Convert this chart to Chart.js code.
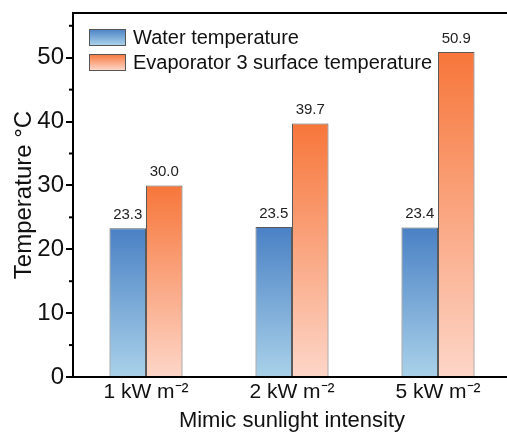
<!DOCTYPE html>
<html>
<head>
<meta charset="utf-8">
<script src="https://cdn.jsdelivr.net/npm/chart.js@4"></script>
<style>
  html, body { margin: 0; padding: 0; background: #fff; overflow: hidden; }
  #wrap { width: 516px; height: 434px; }
</style>
</head>
<body>
<div id="wrap"><canvas id="barChart" width="516" height="434"></canvas></div>
<script>
// data
const categories = ["1 kW m\u207B\u00B2", "2 kW m\u207B\u00B2", "5 kW m\u207B\u00B2"];
const seriesNames = ["Water temperature", "Evaporator 3 surface temperature"];
const waterTemp = [23.3, 23.5, 23.4];
const evapTemp = [30.0, 39.7, 50.9];
const yTicks = [0, 10, 20, 30, 40, 50];
const yMinorTicks = [5, 15, 25, 35, 45, 55];

const FONT = "'Liberation Sans', Arial, sans-serif";
const blueStops = ["#4a81c5", "#a9d1e9"];
const orangeStops = ["#f7763a", "#fdd6c8"];

// vertical gradient for each bar, from its top down to zero
function barGradient(stops) {
  return function (context) {
    const chart = context.chart;
    const y = chart.scales.y;
    if (!chart.chartArea || !y || context.type !== "data") return stops[0];
    const top = y.getPixelForValue(context.raw);
    const bottom = y.getPixelForValue(0);
    const g = chart.ctx.createLinearGradient(0, top, 0, bottom);
    g.addColorStop(0, stops[0]);
    g.addColorStop(1, stops[1]);
    return g;
  };
}

// value labels, top frame line, minor ticks and the in-plot legend
const extras = {
  id: "extras",
  afterDraw(chart) {
    const ctx = chart.ctx;
    const area = chart.chartArea;
    const y = chart.scales.y;
    ctx.save();

    // value labels
    ctx.font = "15px " + FONT;
    ctx.fillStyle = "#222";
    ctx.textAlign = "center";
    ctx.textBaseline = "bottom";
    chart.data.datasets.forEach((ds, i) => {
      chart.getDatasetMeta(i).data.forEach((bar, j) => {
        ctx.fillText(ds.data[j].toFixed(1), bar.x, bar.y - 6);
      });
    });

    // top frame
    ctx.fillStyle = "#000";
    ctx.fillRect(area.left - 1, area.top - 1, area.right - area.left + 1, 2);

    // minor ticks
    yMinorTicks.forEach((v) => {
      if (v > y.max) return;
      const py = y.getPixelForValue(v);
      ctx.fillRect(area.left - 4, py - 1, 4, 2);
    });

    // legend
    const lx = area.left + 16;
    const rows = [area.top + 24, area.top + 49];
    ctx.font = "20px " + FONT;
    ctx.textAlign = "left";
    ctx.textBaseline = "middle";
    [blueStops, orangeStops].forEach((stops, i) => {
      const cy = rows[i];
      const g = ctx.createLinearGradient(0, cy - 8, 0, cy + 8);
      g.addColorStop(0, stops[0]);
      g.addColorStop(1, stops[1]);
      ctx.fillStyle = g;
      ctx.fillRect(lx, cy - 8, 36, 16);
      ctx.strokeStyle = "#555";
      ctx.lineWidth = 1;
      ctx.strokeRect(lx + 0.5, cy - 8 + 0.5, 36, 16);
      ctx.fillStyle = "#111";
      ctx.fillText(seriesNames[i], lx + 44, cy + 1);
    });
    ctx.restore();
  },
};

const ctx = document.getElementById("barChart").getContext("2d");
new Chart(ctx, {
  type: "bar",
  data: {
    labels: categories,
    datasets: [
      {
        label: seriesNames[0],
        data: waterTemp,
        backgroundColor: barGradient(blueStops),
        borderColor: "#5a5a5a",
        borderWidth: 1,
      },
      {
        label: seriesNames[1],
        data: evapTemp,
        backgroundColor: barGradient(orangeStops),
        borderColor: "#5a5a5a",
        borderWidth: 1,
      },
    ],
  },
  options: {
    responsive: false,
    animation: false,
    layout: { padding: { top: 13, right: 5, left: 0, bottom: 0 } },
    datasets: { bar: { barPercentage: 1, categoryPercentage: 0.5 } },
    plugins: {
      legend: { display: false },
      tooltip: { enabled: false },
    },
    scales: {
      x: {
        grid: { display: false, drawTicks: false },
        border: { color: "#000", width: 2 },
        ticks: { color: "#111", font: { family: FONT, size: 21 }, padding: 3 },
        title: {
          display: true,
          text: "Mimic sunlight intensity",
          color: "#111",
          font: { family: FONT, size: 22 },
          padding: { top: 0, bottom: 0 },
        },
        afterFit: (scale) => {
          scale.height = 57;
          scale.paddingLeft = 0;
          scale.paddingRight = 0;
        },
      },
      y: {
        min: 0,
        max: 57,
        afterBuildTicks: (scale) => {
          scale.ticks = yTicks.map((v) => ({ value: v }));
        },
        grid: {
          drawOnChartArea: false,
          color: "#000",
          lineWidth: 2,
          tickLength: 7,
        },
        border: { color: "#000", width: 2 },
        ticks: { color: "#111", font: { family: FONT, size: 24 }, padding: 2 },
        title: {
          display: true,
          text: "Temperature \u00B0C",
          color: "#111",
          font: { family: FONT, size: 24 },
          padding: { top: 10, bottom: 0 },
        },
        afterFit: (scale) => {
          scale.width = 73;
          scale.paddingTop = 0;
          scale.paddingBottom = 0;
        },
      },
    },
  },
  plugins: [extras],
});
</script>
</body>
</html>
